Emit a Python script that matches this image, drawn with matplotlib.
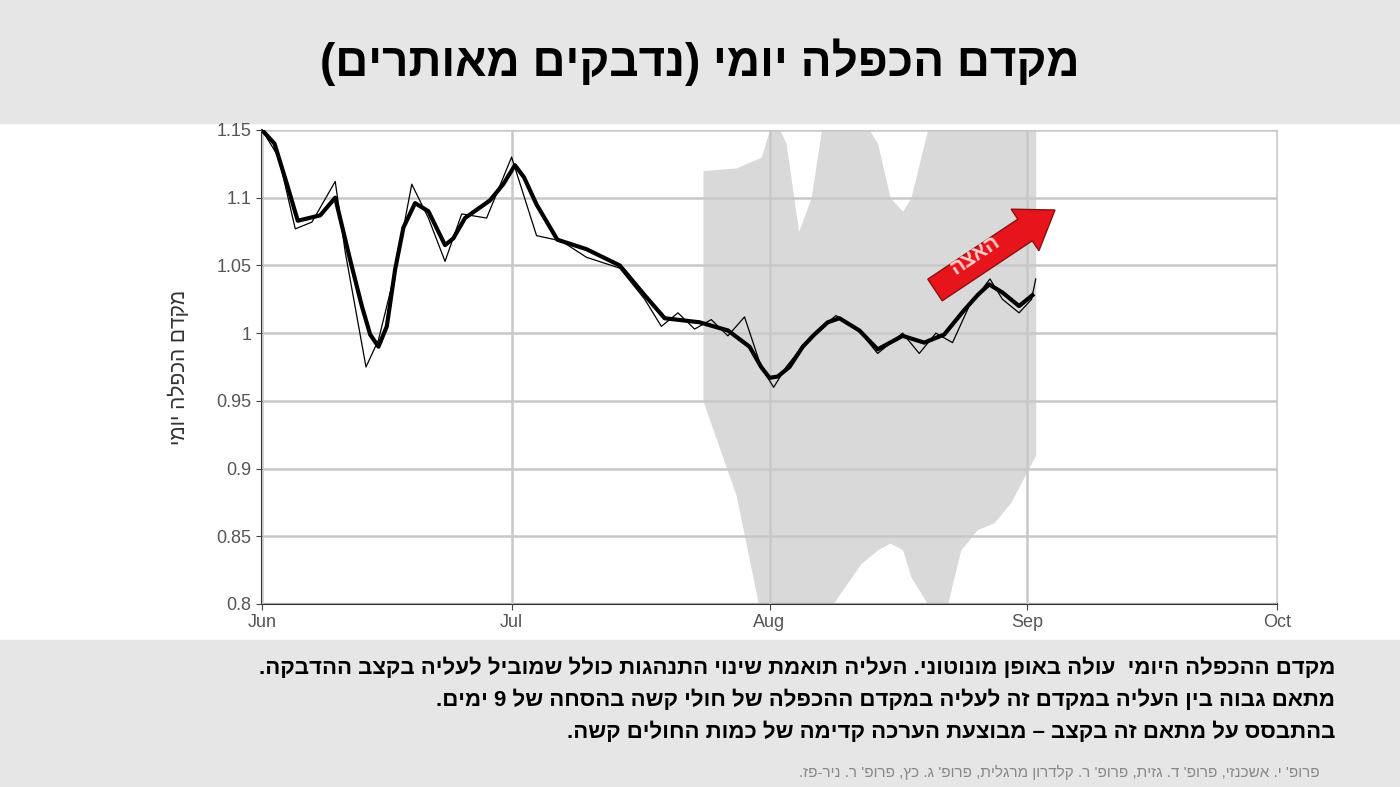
import numpy as np
import matplotlib.pyplot as plt
import matplotlib.patches as mpatches
import matplotlib.transforms as mtransforms

plt.rcParams['font.family'] = ['Liberation Sans', 'DejaVu Sans']

# days since Jun 1
smooth_day = [0, 1.5, 3, 4.3, 7, 8.8, 10.6, 12, 13, 14, 15, 16, 17, 18.4, 20, 22, 23, 24.4, 27.4, 29, 30.4,
              31.5, 33, 35.5, 39, 43, 46, 48.4, 52.6, 56, 58.6, 60, 61, 62, 63.4, 65, 66.4, 68, 69.4, 71.8,
              74, 77, 79.6, 82, 84.4, 86, 87.4, 89, 91, 92.6]
smooth_val = [1.15, 1.14, 1.11, 1.083, 1.087, 1.10, 1.054, 1.02, 0.999, 0.99, 1.005, 1.047, 1.078, 1.096,
              1.09, 1.065, 1.07, 1.085, 1.098, 1.11, 1.124, 1.115, 1.095, 1.069, 1.062, 1.05, 1.028, 1.011,
              1.008, 1.002, 0.99, 0.975, 0.967, 0.968, 0.975, 0.99, 0.999, 1.008, 1.011, 1.002, 0.988,
              0.998, 0.993, 0.999, 1.017, 1.028, 1.036, 1.03, 1.02, 1.028]
raw_day = [0, 2, 4, 6, 8.8, 10, 12.5, 14, 16, 18, 20, 22, 24, 27, 30, 33, 36, 39, 43, 46, 48, 50, 52,
           54, 56, 58, 60, 61.5, 63, 66, 69, 72, 74, 77, 79, 81, 83, 85, 87.5, 89, 91, 92.5, 93]
raw_val = [1.15, 1.13, 1.077, 1.082, 1.112, 1.06, 0.975, 0.995, 1.045, 1.11, 1.085, 1.053, 1.088, 1.085,
           1.13, 1.072, 1.068, 1.056, 1.048, 1.025, 1.005, 1.015, 1.003, 1.01, 0.998, 1.012, 0.975, 0.96,
           0.975, 0.998, 1.013, 1.0, 0.985, 1.0, 0.985, 1.0, 0.993, 1.02, 1.04, 1.025, 1.015, 1.025, 1.04]
band_day = [53, 57, 60, 61.5, 63, 64.5, 66, 67.5, 72, 74, 75.5, 77, 78, 80, 82, 84, 86, 88, 90, 93]
band_hi = [1.12, 1.122, 1.13, 1.16, 1.14, 1.075, 1.10, 1.16, 1.16, 1.14, 1.10, 1.09, 1.10, 1.15, 1.16,
           1.16, 1.16, 1.16, 1.16, 1.16]
band_lo = [0.95, 0.88, 0.79, 0.79, 0.79, 0.79, 0.79, 0.79, 0.83, 0.84, 0.845, 0.84, 0.82, 0.80, 0.79,
           0.84, 0.855, 0.86, 0.875, 0.91]
month_days = [0, 30, 61, 92, 122]
month_labels = ['Jun', 'Jul', 'Aug', 'Sep', 'Oct']
y_ticks = [0.8, 0.85, 0.9, 0.95, 1.0, 1.05, 1.1, 1.15]
y_labels = ['0.8', '0.85', '0.9', '0.95', '1', '1.05', '1.1', '1.15']

title = 'מקדם הכפלה יומי (נדבקים מאותרים)'
ylab = 'מקדם הכפלה יומי'
arrow_text = 'האצה'
notes = ['מקדם ההכפלה היומי  עולה באופן מונוטוני. העליה תואמת שינוי התנהגות כולל שמוביל לעליה בקצב ההדבקה.',
         'מתאם גבוה בין העליה במקדם זה לעליה במקדם ההכפלה של חולי קשה בהסחה של 9 ימים.',
         'בהתבסס על מתאם זה בקצב – מבוצעת הערכה קדימה של כמות החולים קשה.']
credit = "פרופ' י. אשכנזי, פרופ' ד. גזית, פרופ' ר. קלדרון מרגלית, פרופ' ג. כץ, פרופ' ר. ניר-פז."


def vis(s):
    # crude visual reorder for RTL text
    mirror = {'(': ')', ')': '('}
    return ''.join(mirror.get(c, c) for c in s[::-1])


fig = plt.figure(figsize=(14, 7.87), dpi=100)
W, H = 1400, 787
fig.add_artist(mpatches.Rectangle((0, 1 - 123 / H), 1, 123 / H, transform=fig.transFigure, color='#e6e6e6', zorder=0))
fig.add_artist(mpatches.Rectangle((0, 0), 1, 147 / H, transform=fig.transFigure, color='#e6e6e6', zorder=0))
fig.text(700 / W, 1 - 62 / H, vis(title), ha='center', va='center', fontsize=33, fontweight='bold')

ax = fig.add_axes([262 / W, 1 - 604 / H, (1277 - 262) / W, (604 - 130) / H])
ax.fill_between(band_day, band_lo, band_hi, color='#d9d9d9', lw=0, zorder=1)
ax.set_xlim(0, 122)
ax.set_ylim(0.8, 1.15)
ax.set_xticks(month_days)
ax.set_xticklabels(month_labels)
ax.set_yticks(y_ticks)
ax.set_yticklabels(y_labels)
ax.grid(True, color='#c8c8c8', lw=1.8, zorder=2)
ax.set_axisbelow(False)
ax.tick_params(colors='#444444', labelcolor='#555555', labelsize=13, length=4)
for s in ['top', 'right']:
    ax.spines[s].set_color('#d0d0d0')
for s in ['left', 'bottom']:
    ax.spines[s].set_color('#333333')
    ax.spines[s].set_linewidth(1.5)
ax.plot(raw_day, raw_val, color='black', lw=0.9, zorder=3)
ax.plot(smooth_day, smooth_val, color='black', lw=3, zorder=4, solid_joinstyle='round')
ax.set_ylabel(vis(ylab), fontsize=15, color='#333333', labelpad=20)

ident = mtransforms.IdentityTransform()
x0, y0 = 935, H - 290
x1, y1 = 1055, H - 210
arr = mpatches.FancyArrow(x0, y0, x1 - x0, y1 - y0, width=26, head_width=50, head_length=36,
                          length_includes_head=True, transform=ident, facecolor='#e8141b',
                          edgecolor='#8a1010', lw=1, zorder=10)
fig.add_artist(arr)
fig.text(975 / W, 1 - 255 / H, vis(arrow_text), rotation=33.7, ha='center', va='center',
         fontsize=15, fontweight='bold', color='#ffd0d0', zorder=11)

for i, line in enumerate(notes):
    fig.text(1335 / W, 1 - (668 + 32 * i) / H, vis(line), ha='right', va='center', fontsize=16, fontweight='bold')
fig.text(1320 / W, 1 - 772 / H, vis(credit), ha='right', va='center', fontsize=11, color='#888888')

fig.savefig('out.png', dpi=100)
